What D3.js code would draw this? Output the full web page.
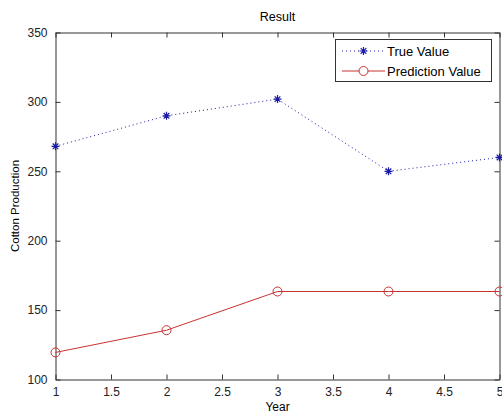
<!DOCTYPE html>
<html>
<head>
<meta charset="utf-8">
<script src="https://cdn.jsdelivr.net/npm/d3@7"></script>
<style>
  body { margin: 0; background: #fff; }
  text { font-family: "Liberation Sans", Arial, sans-serif; }
</style>
</head>
<body>
<svg id="chart" width="502" height="414"></svg>
<script>
// data
var years = [1, 2, 3, 4, 5];
var trueValues = [268, 290, 302, 250, 260];
var predictionValues = [119.5, 135.5, 163.4, 163.4, 163.4];
var xTicks = [1, 1.5, 2, 2.5, 3, 3.5, 4, 4.5, 5];
var yTicks = [100, 150, 200, 250, 300, 350];

var svg = d3.select('#chart');
var m = { left: 55.5, right: 499.5, top: 32.5, bottom: 379.5 };

var x = d3.scaleLinear().domain([1, 5]).range([m.left, m.right]);
var y = d3.scaleLinear().domain([100, 350]).range([m.bottom, m.top]);

var fmt = function(d) { return String(d); };

// axes, MATLAB style: ticks pointing in on every side
svg.append('g').attr('transform', 'translate(0,' + m.bottom + ')')
  .call(d3.axisBottom(x).tickValues(xTicks).tickSizeInner(-5).tickSizeOuter(0).tickPadding(8).tickFormat(fmt));
svg.append('g').attr('transform', 'translate(0,' + m.top + ')')
  .call(d3.axisTop(x).tickValues(xTicks).tickSizeInner(-5).tickSizeOuter(0).tickFormat(''));
svg.append('g').attr('transform', 'translate(' + m.left + ',0)')
  .call(d3.axisLeft(y).tickValues(yTicks).tickSizeInner(-5).tickSizeOuter(0).tickPadding(8).tickFormat(fmt));
svg.append('g').attr('transform', 'translate(' + m.right + ',0)')
  .call(d3.axisRight(y).tickValues(yTicks).tickSizeInner(-5).tickSizeOuter(0).tickFormat(''));

svg.selectAll('.domain').attr('stroke', '#333');
svg.selectAll('.tick line').attr('stroke', '#333');
svg.selectAll('.tick text').attr('font-size', 12).attr('fill', '#222');

svg.append('text').attr('x', (m.left + m.right) / 2).attr('y', 21)
  .attr('text-anchor', 'middle').attr('font-size', 12.5).text('Result');
svg.append('text').attr('x', (m.left + m.right) / 2).attr('y', 411)
  .attr('text-anchor', 'middle').attr('font-size', 12).text('Year');
svg.append('text').attr('transform', 'translate(19,' + ((m.top + m.bottom) / 2) + ') rotate(-90)')
  .attr('text-anchor', 'middle').attr('font-size', 11.5).text('Cotton Production');

var trueColor = '#1a1aa8', predColor = '#c83232';

function star(g, cx, cy, r) {
  var p = 'M' + (cx - r) + ',' + cy + 'H' + (cx + r) + 'M' + cx + ',' + (cy - r) + 'V' + (cy + r) +
    'M' + (cx - r * 0.7) + ',' + (cy - r * 0.7) + 'L' + (cx + r * 0.7) + ',' + (cy + r * 0.7) +
    'M' + (cx - r * 0.7) + ',' + (cy + r * 0.7) + 'L' + (cx + r * 0.7) + ',' + (cy - r * 0.7);
  g.append('path').attr('d', p).attr('stroke', trueColor).attr('stroke-width', 1.2).attr('fill', 'none');
}

var line = d3.line().x(function(d) { return x(d[0]); }).y(function(d) { return y(d[1]); });

var trueData = d3.zip(years, trueValues);
var predData = d3.zip(years, predictionValues);

svg.append('path').datum(trueData).attr('d', line)
  .attr('fill', 'none').attr('stroke', trueColor).attr('stroke-width', 1).attr('stroke-dasharray', '1,3');
trueData.forEach(function(d) { star(svg, x(d[0]), y(d[1]), 4); });

svg.append('path').datum(predData).attr('d', line)
  .attr('fill', 'none').attr('stroke', predColor).attr('stroke-width', 1);
svg.selectAll('.pred').data(predData).enter().append('circle')
  .attr('cx', function(d) { return x(d[0]); }).attr('cy', function(d) { return y(d[1]); })
  .attr('r', 4.5).attr('fill', 'none').attr('stroke', predColor).attr('stroke-width', 1);

// legend
var lg = svg.append('g');
lg.append('rect').attr('x', 335.5).attr('y', 39.5).attr('width', 156).attr('height', 42)
  .attr('fill', '#fff').attr('stroke', '#333');
lg.append('line').attr('x1', 342).attr('x2', 385).attr('y1', 51).attr('y2', 51)
  .attr('stroke', trueColor).attr('stroke-dasharray', '1,3');
star(lg, 363.5, 51, 4);
lg.append('line').attr('x1', 342).attr('x2', 385).attr('y1', 71).attr('y2', 71)
  .attr('stroke', predColor);
lg.append('circle').attr('cx', 363.5).attr('cy', 71).attr('r', 4.5)
  .attr('fill', '#fff').attr('stroke', predColor);
lg.append('text').attr('x', 387).attr('y', 55.5).attr('font-size', 13).text('True Value');
lg.append('text').attr('x', 387).attr('y', 75.5).attr('font-size', 13).text('Prediction Value');
</script>
</body>
</html>
